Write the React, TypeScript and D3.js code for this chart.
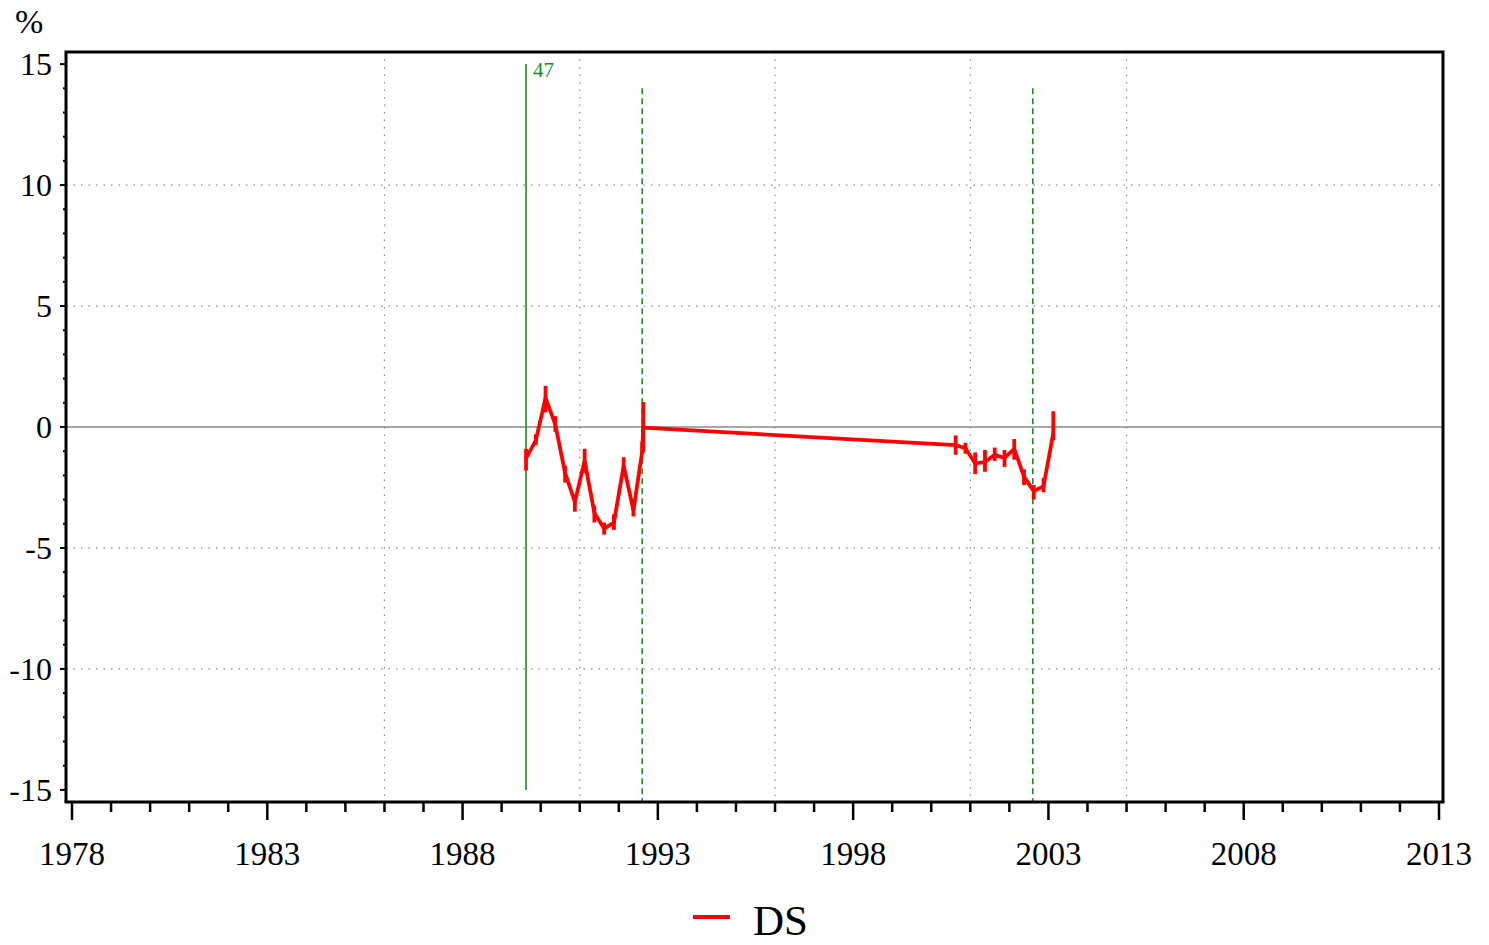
import React from "react";
import * as d3 from "d3";

// quarterly observations (decimal year)
const dates = [
  1989.625, 1989.875, 1990.125, 1990.375, 1990.625, 1990.875, 1991.125, 1991.375,
  1991.625, 1991.875, 1992.125, 1992.375, 1992.6, 1992.625,
  2000.625, 2000.875, 2001.125, 2001.375, 2001.625, 2001.875, 2002.125, 2002.375,
  2002.625, 2002.875, 2003.125,
];
const values = [
  -1.3, -0.55, 1.2, 0.1, -1.9, -3.1, -1.4, -3.55, -4.2, -3.95, -1.6, -3.45, -1.0, -0.03,
  -0.75, -0.88, -1.5, -1.45, -1.15, -1.28, -0.9, -2.05, -2.65, -2.45, -0.25,
];
const lows = [
  -1.8, -0.75, 0.6, -0.2, -2.3, -3.5, -1.9, -3.95, -4.45, -4.25, -2.0, -3.7, -1.1, -1.05,
  -1.15, -1.1, -1.95, -1.85, -1.4, -1.65, -1.35, -2.4, -3.0, -2.7, -0.55,
];
const highs = [
  -0.9, -0.3, 1.7, 0.45, -1.6, -2.85, -0.9, -3.25, -3.95, -3.6, -1.25, -3.15, -0.6, 1.03,
  -0.35, -0.65, -1.05, -0.95, -0.85, -0.95, -0.5, -1.75, -2.4, -2.1, 0.65,
];

const xTicks = [1978, 1983, 1988, 1993, 1998, 2003, 2008, 2013];
const yTicks = [15, 10, 5, 0, -5, -10, -15];
const gridYears = [1986, 1991, 1996, 2001, 2005];
const gridValues = [10, 5, -5, -10];
const breakYears = [1992.6, 2002.6];
const markerYear = 1989.625;
const markerLabel = "47";
const seriesName = "DS";

const W = 1489;
const H = 945;
const FONT = "'Liberation Serif', 'Times New Roman', serif";
const GREEN = "#1e8c1e";

export default function App() {
  const x = d3.scaleLinear().domain([1978, 2013]).range([72, 1439]);
  const y = d3.scaleLinear().domain([-15.5, 15.5]).range([802, 52]);

  const left = 66;
  const right = 1443;
  const top = y(15.5);
  const bottom = y(-15.5);

  const pts = dates.map((d, i) => ({ d, v: values[i], lo: lows[i], hi: highs[i] }));
  const line = d3
    .line<{ d: number; v: number }>()
    .x((p) => x(p.d))
    .y((p) => y(p.v));

  const minorYears = d3.range(1978, 2014);
  const minorVals = d3.range(-15, 16);

  return (
    <svg
      width={W}
      height={H}
      style={{ position: "absolute", left: 0, top: 0, background: "#fff" }}
      fontFamily={FONT}
    >
      {/* grid */}
      {gridValues.map((g) => (
        <line key={"gy" + g} x1={left} x2={right} y1={y(g)} y2={y(g)}
          stroke="#888" strokeWidth={1.2} strokeDasharray="1.5,6" />
      ))}
      {gridYears.map((g) => (
        <line key={"gx" + g} x1={x(g)} x2={x(g)} y1={top} y2={bottom}
          stroke="#888" strokeWidth={1.2} strokeDasharray="1.5,6" />
      ))}
      <line x1={left} x2={right} y1={y(0)} y2={y(0)} stroke="#8a8a8a" strokeWidth={1.3} />

      {/* event markers */}
      <line x1={x(markerYear)} x2={x(markerYear)} y1={y(15)} y2={y(-15)} stroke={GREEN} strokeWidth={1.6} />
      <text x={x(markerYear) + 7} y={77} fill={GREEN} fontSize={21}>{markerLabel}</text>
      {breakYears.map((b) => (
        <line key={"b" + b} x1={x(b)} x2={x(b)} y1={y(14)} y2={bottom}
          stroke={GREEN} strokeWidth={1.6} strokeDasharray="6,4" />
      ))}

      {/* series */}
      <path d={line(pts) ?? ""} fill="none" stroke="#ff0000" strokeWidth={3.8} strokeLinejoin="round" />
      {pts.map((p, i) => (
        <line key={"e" + i} x1={x(p.d)} x2={x(p.d)} y1={y(p.lo)} y2={y(p.hi)}
          stroke="#ff0000" strokeWidth={3.8} />
      ))}

      {/* frame */}
      <path d={`M${left},${bottom}V${top}H${right}V${bottom}`} fill="none" stroke="#000" strokeWidth={3} />
      <line x1={left - 1.5} x2={right + 1.5} y1={bottom} y2={bottom} stroke="#000" strokeWidth={3} />

      {/* y axis ticks */}
      {minorVals.map((v) => (
        <line key={"ym" + v} x1={left - (v % 5 === 0 ? 6 : 3)} x2={left} y1={y(v)} y2={y(v)}
          stroke="#000" strokeWidth={2} />
      ))}
      {yTicks.map((v) => (
        <text key={"yt" + v} x={52} y={y(v)} dy="0.35em" textAnchor="end" fontSize={32}>{v}</text>
      ))}
      <text x={15} y={33} fontSize={34}>%</text>

      {/* x axis ticks */}
      {minorYears.map((yr) => (
        <line key={"xm" + yr} x1={x(yr)} x2={x(yr)} y1={bottom} y2={bottom + ((yr - 1978) % 5 === 0 ? 18 : 10)}
          stroke="#000" strokeWidth={2.5} />
      ))}
      {xTicks.map((yr) => (
        <text key={"xt" + yr} x={x(yr)} y={865} textAnchor="middle" fontSize={33}>{yr}</text>
      ))}

      {/* legend */}
      <line x1={693} x2={730} y1={917} y2={917} stroke="#ff0000" strokeWidth={3.8} />
      <text x={753} y={935} fontSize={43}>{seriesName}</text>
    </svg>
  );
}
